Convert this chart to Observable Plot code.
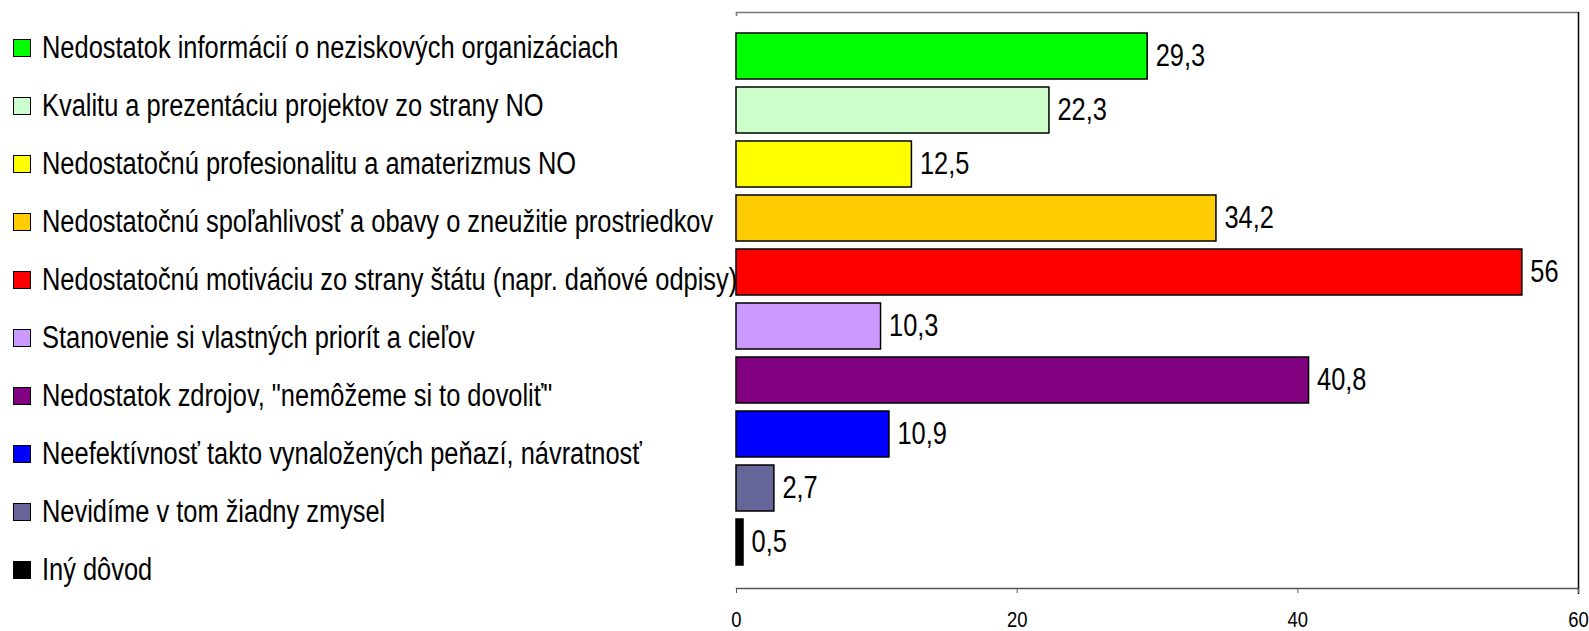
<!DOCTYPE html>
<html>
<head>
<meta charset="utf-8">
<script src="https://cdn.jsdelivr.net/npm/d3@7"></script>
<script src="https://cdn.jsdelivr.net/npm/@observablehq/plot@0.6"></script>
<style>
  html, body { margin: 0; padding: 0; background: #fff; }
  #wrap { position: relative; width: 1589px; height: 631px; font-family: "Liberation Sans", Arial, sans-serif; }
  #chart { position: absolute; left: 0; top: 0; }
  #legend { position: absolute; left: 0; top: 0; }
  .item { position: absolute; left: 13px; height: 40px; display: flex; align-items: center; font-size: 31px; color: #000; white-space: nowrap; }
  .sw { width: 16px; height: 16px; border: 1.5px solid #000; margin-right: 11px; flex: none; }
  .txt { display: inline-block; transform: scaleX(0.82); transform-origin: 0 50%; }
</style>
</head>
<body>
<div id="wrap">
  <div id="chart"></div>
  <div id="legend"></div>
</div>
<script>
const categories = [
  "Nedostatok informácií o neziskových organizáciach",
  "Kvalitu a prezentáciu projektov zo strany NO",
  "Nedostatočnú profesionalitu a amaterizmus NO",
  "Nedostatočnú spoľahlivosť a obavy o zneužitie prostriedkov",
  "Nedostatočnú motiváciu zo strany štátu (napr. daňové odpisy)",
  "Stanovenie si vlastných priorít a cieľov",
  "Nedostatok zdrojov, \"nemôžeme si to dovoliť\"",
  "Neefektívnosť takto vynaložených peňazí, návratnosť",
  "Nevidíme v tom žiadny zmysel",
  "Iný dôvod"
];
const values = [29.3, 22.3, 12.5, 34.2, 56, 10.3, 40.8, 10.9, 2.7, 0.5];
const colors = ["#00FF00", "#CCFFCC", "#FFFF00", "#FFCC00", "#FF0000", "#CC99FF", "#800080", "#0000FF", "#666699", "#000000"];
const xTicks = [0, 20, 40, 60];

const data = categories.map((c, i) => ({category: c, value: values[i]}));
const fmt = v => String(v).replace(".", ",");
const font = "'Liberation Sans', Arial, sans-serif";
const NARROW = 0.82;

const plot = Plot.plot({
  width: 1589,
  height: 631,
  marginLeft: 736,
  marginRight: 11,
  marginTop: 12,
  marginBottom: 43,
  style: {fontFamily: font, background: "#fff", color: "#000"},
  x: {domain: [0, 60]},
  y: {domain: categories, paddingInner: 0.15, paddingOuter: 0, insetTop: 18, insetBottom: 19.5},
  color: {domain: categories, range: colors},
  marks: [
    Plot.frame({anchor: "top", stroke: "#777", strokeWidth: 1.5}),
    Plot.frame({anchor: "bottom", stroke: "#555", strokeWidth: 1.5}),
    Plot.ruleX([60], {stroke: "#000", strokeWidth: 1.5, insetBottom: -6}),
    Plot.ruleX([0], {stroke: "#777", strokeWidth: 1.5, insetBottom: 572}),
    Plot.barX(data, {x: "value", y: "category", fill: "category", stroke: "#000", strokeWidth: 1.5}),
    Plot.text(data, {x: "value", y: "category", text: d => fmt(d.value), dx: 8, textAnchor: "start", fontSize: 31, fill: "#000"}),
    Plot.axisX({ticks: xTicks, tickSize: 5, tickPadding: 18, fontSize: 22.5, label: null, stroke: "#555", tickFormat: d => d}),
    Plot.axisY({ticks: [], label: null, tickSize: 0})
  ]
});
// emulate a narrow (Arial Narrow-like) face by horizontally condensing each text about its anchor
plot.querySelectorAll("text").forEach(t => {
  const tr = t.getAttribute("transform");
  if (tr) {
    t.setAttribute("transform", tr + ` scale(${NARROW},1)`);
  } else {
    const x = +(t.getAttribute("x") || 0);
    t.setAttribute("transform", `translate(${x},0) scale(${NARROW},1) translate(${-x},0)`);
  }
});
document.getElementById("chart").appendChild(plot);

const legend = document.getElementById("legend");
categories.forEach((c, i) => {
  const el = document.createElement("div");
  el.className = "item";
  el.style.top = (47.5 + 58 * i - 20) + "px";
  const sw = document.createElement("span");
  sw.className = "sw";
  sw.style.background = colors[i];
  const t = document.createElement("span");
  t.className = "txt";
  t.textContent = c;
  el.appendChild(sw);
  el.appendChild(t);
  legend.appendChild(el);
});
</script>
</body>
</html>
